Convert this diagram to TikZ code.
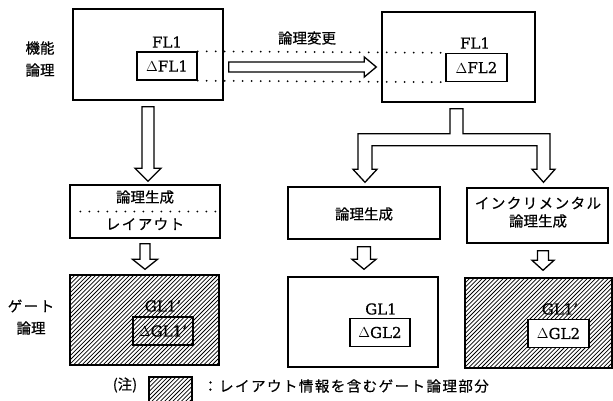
\documentclass[tikz,border=0pt]{standalone}
\usepackage{fontspec}
\setmainfont[FakeBold=0.6]{DejaVu Serif}
\newfontfamily\jp[FakeBold=0.5]{Noto Sans CJK JP}
\newfontfamily\jpw[LetterSpace=10,FakeBold=0.5]{Noto Sans CJK JP}
\usetikzlibrary{calc}
\tikzset{
  box/.style={draw, line width=1.4pt, rectangle, inner sep=0pt},
  inbox/.style={draw, line width=1.4pt, rectangle, inner sep=0pt, minimum width=60pt, minimum height=28pt, font=\fontsize{15}{15}\selectfont},
  lat/.style={inner sep=0pt, font=\fontsize{15}{15}\selectfont},
  jpt/.style={inner sep=0pt, font=\jp\fontsize{14.5}{16}\selectfont},
  jpk/.style={inner sep=0pt, font=\jpw\fontsize{14.5}{16}\selectfont},
  fat/.style={draw, line width=1.3pt, fill=white, line join=miter},
  dotl/.style={line width=2pt, dash pattern=on 0pt off 9pt, line cap=round},
  hatch/.style={path picture={
      \foreach \i in {-110,-105.8,...,160}
        \draw[line width=0.75pt] ([xshift=\i pt]path picture bounding box.south west) -- ++(120pt,120pt);}}
}
\newcommand\fatdn[7]{%
  \draw[fat] let \p1=($#1+(0,#3)$), \p2=($#2+(0,-#4)$) in
   (\x1-#5pt,\y1) -- (\x1-#5pt,\y2+#7pt) -- (\x1-#6pt,\y2+#7pt) -- (\x1,\y2)
   -- (\x1+#6pt,\y2+#7pt) -- (\x1+#5pt,\y2+#7pt) -- (\x1+#5pt,\y1) -- cycle;}
\begin{document}
\begin{tikzpicture}[x=1pt,y=-1pt]
\useasboundingbox (0,0) rectangle (613,401);
\fill[white] (0,0) rectangle (613,401);

% side labels
\node[jpt] (lk1) at (40,48) {機能};
\node[jpt] (lk2) at (40,70) {論理};
\node[jpk] (lg1) at (31,306) {ゲート};
\node[jpt] (lg2) at (31,328) {論理};

% functional logic boxes
\node[box, minimum width=150pt, minimum height=91pt] (fla) at (148,54.5) {};
\node[inbox] (d1) at (167,66) {$\Delta$FL1};
\node[lat] (fla-t) at (167,42) {FL1};

\node[box, minimum width=153pt, minimum height=90pt] (frb) at (458.5,57) {};
\node[inbox, minimum width=61pt] (d2) at (476.5,67.5) {$\Delta$FL2};
\node[lat] (frb-t) at (475,43) {FL1};

% dotted guide lines
\draw[dotl] (d1.north east) -- (d2.north west);
\draw[dotl] (d1.south east) -- (d2.south west);

% logic change arrow
\draw[fat] let \p1=($(fla.east)+(5,12.5)$), \p2=($(frb.west)+(-5,0)$) in
  (\x1,\y1+5pt) -- (\x2-12pt,\y1+5pt) -- (\x2-12pt,\y1+10pt) -- (\x2,\y1)
  -- (\x2-12pt,\y1-10pt) -- (\x2-12pt,\y1-5pt) -- (\x1,\y1-5pt) -- cycle;
\node[jpt] (chg) at (307,38) {論理変更};

% process boxes
\node[box, minimum width=150pt, minimum height=53pt] (pa) at (145,211.5) {};
\node[jpt] (pa1) at (145,197) {論理生成};
\node[jpk] (pa2) at (145,224) {レイアウト};
\draw[dotl, shorten <=11pt, shorten >=5pt] (pa.west) -- (pa.east);

\node[box, minimum width=152pt, minimum height=52pt] (pb) at (364,213) {};
\node[jpt] (pb1) at (364,214) {論理生成};

\node[box, minimum width=141pt, minimum height=55pt] (pc) at (537.5,215.5) {};
\node[jpk] (pc1) at (538,203) {インクリメンタル};
\node[jpt] (pc2) at (538,221) {論理生成};

% gate logic boxes
\node[box, hatch, minimum width=149pt, minimum height=90pt] (ga) at (144.5,320) {};
\node[inbox] (ga-d) at (163,331) {$\Delta$GL1'};
\node[lat] (ga-t) at (163,306) {GL1'};

\node[box, minimum width=150pt, minimum height=90pt] (gb) at (363,322) {};
\node[inbox] (gb-d) at (380,332.5) {$\Delta$GL2};
\node[lat] (gb-t) at (381,309) {GL1};

\node[box, hatch, minimum width=147pt, minimum height=90pt] (gc) at (538.5,323) {};
\node[inbox, fill=white, minimum width=61pt] (gc-d) at (558.5,333.5) {$\Delta$GL2};
\node[lat] (gc-t) at (560,309) {GL1'};

% arrows
\fatdn{(fla.south)}{(pa.north)}{6}{3}{6}{13}{13}
\fatdn{(pa.south)}{(ga.north)}{5}{5}{5}{12.5}{10}
\fatdn{(pb.south)}{(gb.north)}{7}{7}{6.5}{12}{10}
\fatdn{($(pc.south)+(5.5,0)$)}{(gc.north)}{7}{7}{5.5}{11}{10}

% fork arrow
\draw[fat] let \p1=($(frb.south)+(-2,6)$), \p2=($(pb.north)+(1,-4)$), \p3=($(pc.north)+(6,-5)$) in
  (\x1-6.5pt,\y1) -- (\x1-6.5pt,\y1-25pt) -- (\x2-7pt,\y1-25pt) -- (\x2-7pt,\y2+13pt)
  -- (\x2-12pt,\y2+13pt) -- (\x2,\y2) -- (\x2+12pt,\y2+13pt) -- (\x2+7pt,\y2+13pt)
  -- (\x2+7pt,\y1-37pt) -- (\x3-6.5pt,\y1-37pt) -- (\x3-6.5pt,\y3+13pt)
  -- (\x3-11.5pt,\y3+13pt) -- (\x3,\y3) -- (\x3+11.5pt,\y3+13pt) -- (\x3+6.5pt,\y3+13pt)
  -- (\x3+6.5pt,\y1-25pt) -- (\x1+6.5pt,\y1-25pt) -- (\x1+6.5pt,\y1) -- cycle;

% legend
\node[jpt] (note) at (125,385) {(注)};
\node[box, hatch, minimum width=43pt, minimum height=28pt] (lbox) at (170.5,391) {};
\node[jpk, anchor=west] (ltext) at (203,386) {：レイアウト情報を含むゲート論理部分};
\end{tikzpicture}
\end{document}
